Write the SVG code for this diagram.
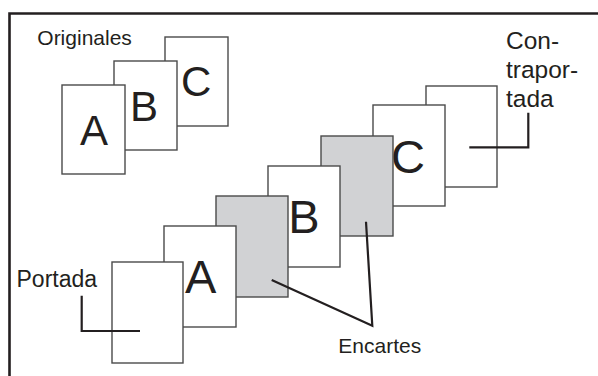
<svg xmlns="http://www.w3.org/2000/svg" width="598" height="376" viewBox="0 0 598 376">
<style>
.page{fill:#ffffff;stroke:#4a4a4a;stroke-width:1.4}
.insert{fill:#d1d2d4;stroke:#4a4a4a;stroke-width:1.4}
.big{font-family:"Liberation Sans",Arial,sans-serif;fill:#231f20}
.lbl{font-family:"Liberation Sans",Arial,sans-serif;fill:#231f20}
.conn{fill:none;stroke:#231f20;stroke-width:2.2}
</style>
<rect x="0" y="0" width="598" height="376" fill="#ffffff"/>
<path d="M9.5,380 V13.5 H602" fill="none" stroke="#231f20" stroke-width="2.6"/>
<text class="lbl" x="37.3" y="45" font-size="21">Originales</text>
<g id="orig-c"><rect class="page" x="165" y="37" width="63" height="89"/><text class="big" x="181" y="96" font-size="42">C</text></g>
<g id="orig-b"><rect class="page" x="114" y="61" width="63" height="89"/><text class="big" x="130" y="121" font-size="42">B</text></g>
<g id="orig-a"><rect class="page" x="62" y="85" width="63" height="89"/><text class="big" x="80" y="145" font-size="42">A</text></g>
<g id="contraportada"><rect class="page" x="426" y="86" width="71" height="101"/></g>
<g id="page-c"><rect class="page" x="373" y="105" width="72" height="101"/><text class="big" x="391" y="173" font-size="47">C</text></g>
<g id="encarte-2"><rect class="insert" x="321" y="136" width="72" height="100"/></g>
<g id="page-b"><rect class="page" x="268" y="166" width="72" height="101"/><text class="big" x="288.3" y="233" font-size="47">B</text></g>
<g id="encarte-1"><rect class="insert" x="216" y="196" width="72" height="101"/></g>
<g id="page-a"><rect class="page" x="164" y="226" width="72" height="101"/><text class="big" x="185" y="293" font-size="47">A</text></g>
<g id="portada"><rect class="page" x="112" y="262" width="71" height="101"/></g>
<g id="labels">
<text class="lbl" x="16.5" y="286.7" font-size="23">Portada</text>
<text class="lbl" x="338.3" y="353.3" font-size="21">Encartes</text>
<text class="lbl" font-size="24.5"><tspan x="506" y="49">Con-</tspan><tspan x="506" y="78">trapor-</tspan><tspan x="506" y="106.5">tada</tspan></text>
</g>
<g id="connectors">
<path class="conn" d="M81.7,295.7 V331 H140"/>
<path class="conn" d="M528.3,112.7 V147.3 H469.3"/>
<path class="conn" d="M271.7,280 L372.3,325.7 L366,221.7"/>
</g>
</svg>
